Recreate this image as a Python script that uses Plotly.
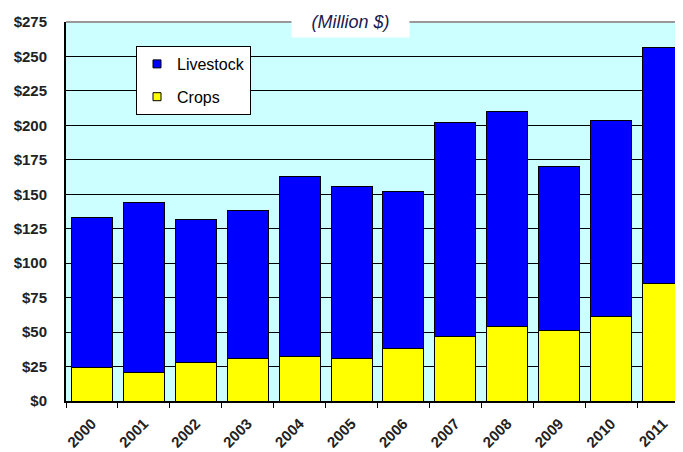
import plotly.graph_objects as go

years = ["2000", "2001", "2002", "2003", "2004", "2005", "2006", "2007", "2008", "2009", "2010", "2011"]
crops = [24, 21, 28, 30.5, 32, 30.5, 38, 46.5, 54, 51, 61, 85]
totals = [133, 144, 131.5, 138, 163, 156, 152, 202, 210, 170.5, 203.5, 256.5]
livestock = [round(t - c, 1) for t, c in zip(totals, crops)]
y_ticks = [0, 25, 50, 75, 100, 125, 150, 175, 200, 225, 250, 275]

CROP_COLOR = "#FFFF00"
LIVE_COLOR = "#0000FF"

# page body has an 8px margin, so the figure is offset by (8, 8)
OFF = 8
W, H = 683 - OFF, 452 - OFF
L, T, B = 66 - OFF, 22 - OFF, H - (401 - OFF)
PW = W - L
PH = H - T - B

fig = go.Figure()
fig.add_trace(go.Bar(x=years, y=crops, name="Crops", showlegend=False,
                     marker=dict(color=CROP_COLOR, line=dict(color="black", width=1))))
fig.add_trace(go.Bar(x=years, y=livestock, name="Livestock", showlegend=False,
                     marker=dict(color=LIVE_COLOR, line=dict(color="black", width=1))))
# legend entries with small square keys
fig.add_trace(go.Scatter(x=[None], y=[None], mode="markers", name="Livestock", legendgroup="l",
                         marker=dict(symbol="square", size=8, color=LIVE_COLOR,
                                     line=dict(color="black", width=1))))
fig.add_trace(go.Scatter(x=[None], y=[None], mode="markers", name="Crops", legendgroup="c",
                         marker=dict(symbol="square", size=8, color=CROP_COLOR,
                                     line=dict(color="black", width=1))))

tickfont = dict(family="Liberation Sans, Arial, sans-serif", size=15, color="#222", weight="bold")

fig.update_layout(
    width=W, height=H,
    margin=dict(l=L, r=0, t=T, b=B),
    paper_bgcolor="white",
    plot_bgcolor="#CCFFFF",
    barmode="stack",
    bargap=0.21,
    showlegend=True,
    legend=dict(
        x=(136 - 66) / PW, y=(401 - 46) / PH, xanchor="left", yanchor="top",
        bgcolor="white", bordercolor="black", borderwidth=1,
        font=dict(family="Liberation Sans, Arial, sans-serif", size=16, color="black"),
        traceorder="grouped", tracegroupgap=9,
        itemwidth=30,
    ),
    xaxis=dict(
        type="category",
        range=[-0.5, -0.5 + 12 * (683 - 66) / (689 - 66)],
        tickson="boundaries",
        ticks="outside", ticklen=5, tickcolor="black",
        showline=True, linecolor="black", linewidth=2,
        tickangle=-45,
        tickfont=tickfont,
        ticklabelstandoff=6,
        showgrid=False,
        automargin=False,
    ),
    yaxis=dict(
        range=[0, 275],
        tickvals=y_ticks,
        ticktext=["$" + str(v) for v in y_ticks],
        showgrid=True, gridcolor="black", gridwidth=1,
        showline=True, linecolor="black", linewidth=2,
        ticks="",
        ticklabelstandoff=14,
        tickfont=tickfont,
        zeroline=False,
        automargin=False,
    ),
    shapes=[dict(type="line", xref="paper", yref="paper", x0=0, x1=1, y0=1, y1=1,
                 line=dict(color="#999999", width=2))],
    annotations=[dict(
        text="<i>(Million $)</i>", xref="paper", yref="paper",
        x=(350 - 66) / PW, y=1.0, xanchor="center", yanchor="middle",
        showarrow=False, bgcolor="white",
        font=dict(family="Liberation Sans, Arial, sans-serif", size=18, color="#1a1a50"),
        width=115, height=28,
    )],
)

fig.write_html("out.html")
